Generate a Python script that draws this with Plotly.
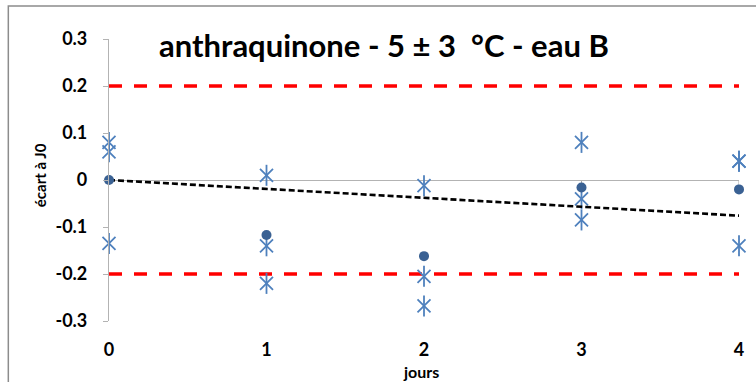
import numpy as np
import plotly.graph_objects as go

# Days of storage
days = [0, 1, 2, 3, 4]

# Replicate deviations from J0 (three measurements per day)
rep_a = [0.08, 0.01, -0.012, 0.08, 0.04]
rep_b = [0.06, -0.14, -0.205, -0.04, 0.04]
rep_c = [-0.135, -0.22, -0.268, -0.085, -0.14]

# Mean deviation per day
mean_dev = [0.0, -0.117, -0.162, -0.016, -0.020]

# Acceptance limits
limit_hi = 0.2
limit_lo = -0.2

y_tickvals = [-0.3, -0.2, -0.1, 0, 0.1, 0.2, 0.3]
y_ticktext = ["-0.3", "-0.2", "-0.1", "0", "0.1", "0.2", "0.3"]
x_tickvals = [0, 1, 2, 3, 4]
x_ticktext = ["0", "1", "2", "3", "4"]

# Linear trend forced through the origin, fitted on the daily means
xd = np.array(days, dtype=float)
ym = np.array(mean_dev, dtype=float)
slope = float((xd * ym).sum() / (xd * xd).sum())
trend_x = [days[0], days[-1]]
trend_y = [slope * days[0], slope * days[-1]]

FONT = "Lato"
STAR = "#4F81BD"
DOT = "#3A6193"

fig = go.Figure()

# Acceptance limits
for lim in (limit_hi, limit_lo):
    fig.add_trace(go.Scatter(
        x=[days[0], days[-1]], y=[lim, lim], mode="lines",
        line=dict(color="#FF0000", width=3.5, dash="13px,12px"),
        hoverinfo="skip", showlegend=False,
    ))

# Replicates drawn as six-branch stars (x plus vertical stroke)
all_x = days * 3
all_y = rep_a + rep_b + rep_c
for sym in ("x-thin-open", "line-ns-open"):
    fig.add_trace(go.Scatter(
        x=all_x, y=all_y, mode="markers",
        marker=dict(symbol=sym, size=13 if sym == "x-thin-open" else 15,
                    color=STAR, line=dict(color=STAR, width=1.8)),
        cliponaxis=False, showlegend=False,
    ))

# Trend line
fig.add_trace(go.Scatter(
    x=trend_x, y=trend_y, mode="lines",
    line=dict(color="#000000", width=2.6, dash="6px,3px"),
    hoverinfo="skip", showlegend=False,
))

# Daily means
fig.add_trace(go.Scatter(
    x=days, y=mean_dev, mode="markers",
    marker=dict(symbol="circle", size=10, color=DOT),
    cliponaxis=False, showlegend=False,
))

# Small tick marks hanging below the zero line
shapes = []
for xv in x_tickvals:
    shapes.append(dict(type="line", xref="x", yref="y", ysizemode="pixel",
                       yanchor=0, x0=xv, x1=xv, y0=0, y1=-5,
                       line=dict(color="#A6A6A6", width=1), layer="below"))
# Outer chart frame
shapes.append(dict(type="rect", xref="paper", yref="paper",
                   x0=(8 - 109) / 632, x1=1.05, y0=-0.3, y1=(321 - 6) / 282,
                   line=dict(color="#8C8C8C", width=1.5), layer="below"))

fig.update_layout(
    width=756, height=382,
    margin=dict(l=109, r=15, t=39, b=61),
    paper_bgcolor="white", plot_bgcolor="white",
    font=dict(family=FONT, color="#000000"),
    shapes=shapes,
    annotations=[
        dict(text="<b>anthraquinone - 5 ± 3 \u00a0°C - eau B</b>",
             xref="paper", yref="paper", x=(385 - 109) / 632, y=(321 - 45) / 282,
             xanchor="center", yanchor="middle", showarrow=False,
             font=dict(family=FONT, size=31, color="#000000")),
        dict(text="<b>écart à J0</b>", textangle=-90,
             xref="paper", yref="paper", x=(40 - 109) / 632, y=(321 - 175) / 282,
             xanchor="center", yanchor="middle", showarrow=False,
             font=dict(family=FONT, size=15, color="#000000")),
        dict(text="<b>jours</b>",
             xref="paper", yref="paper", x=(422 - 109) / 632, y=(321 - 371) / 282,
             xanchor="center", yanchor="middle", showarrow=False,
             font=dict(family=FONT, size=16, color="#000000")),
    ],
    xaxis=dict(
        range=[0, 4], showgrid=False, zeroline=False, showline=False,
        tickvals=x_tickvals, ticktext=x_ticktext, ticks="",
        tickfont=dict(family=FONT, size=18, color="#000000", weight="bold"),
        ticklabelstandoff=16, fixedrange=True,
    ),
    yaxis=dict(
        range=[-0.3, 0.3], showgrid=False,
        zeroline=True, zerolinecolor="#B3B3B3", zerolinewidth=1.2,
        showline=True, linecolor="#B3B3B3", linewidth=1.2,
        ticks="outside", ticklen=5, tickcolor="#B3B3B3",
        tickvals=y_tickvals, ticktext=y_ticktext,
        tickfont=dict(family=FONT, size=18, color="#000000", weight="bold"),
        ticklabelstandoff=12, fixedrange=True,
    ),
)

fig.write_html("out.html")
